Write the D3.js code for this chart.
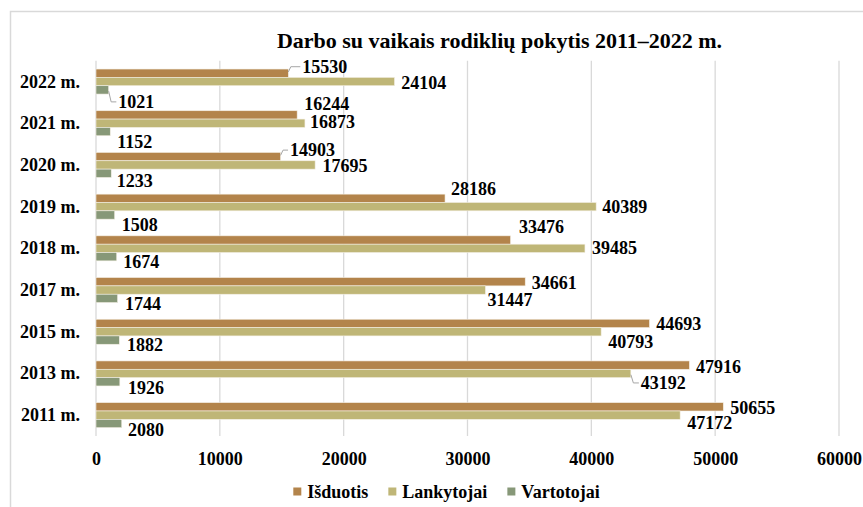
<!DOCTYPE html>
<html>
<head>
<meta charset="utf-8">
<script src="https://cdn.jsdelivr.net/npm/d3@7"></script>
<style>
  body { margin: 0; background: #fff; }
  svg text { font-family: 'Liberation Serif', 'Times New Roman', serif; font-weight: bold; fill: #000; }
</style>
</head>
<body>
<div id="chart"></div>
<script>
const years = ["2022 m.", "2021 m.", "2020 m.", "2019 m.", "2018 m.", "2017 m.", "2015 m.", "2013 m.", "2011 m."];
const isduotis = [15530, 16244, 14903, 28186, 33476, 34661, 44693, 47916, 50655];
const lankytojai = [24104, 16873, 17695, 40389, 39485, 31447, 40793, 43192, 47172];
const vartotojai = [1021, 1152, 1233, 1508, 1674, 1744, 1882, 1926, 2080];
const seriesNames = ["Išduotis", "Lankytojai", "Vartotojai"];
const xTicks = [0, 10000, 20000, 30000, 40000, 50000, 60000];

const width = 863, height = 507;
const colors = ["#b3844b", "#bfb677", "#879878"];

// label placement (dx from bar end, dy from bar centre), like the manual moves in the original
const labelShift = [
    [[14, -6.5], [7, -11], [9.5, -6.5], [6, -9], [8.5, -13], [6.5, 1], [6.7, 1], [6.7, 2], [7, 1]],
    [[6.7, 1], [5, -1], [7.5, 1], [6, 0.5], [7, 0], [2, 10], [7, 10], [10, 9.5], [7, 8]],
    [[9.7, 12], [7, 10], [5.4, 7.5], [7, 10], [6.6, 5], [7.4, 6], [7.7, 5], [8.2, 6], [6.3, 7]]
];
const leaders = [[0, 0], [0, 2], [2, 0], [1, 7]]; // [series, row]

const svg = d3.select('#chart')
    .append('svg')
    .attr('width', width)
    .attr('height', height);

svg.append('rect').attr('width', width).attr('height', height).attr('fill', '#fff');

// chart frame (only top and left edges are in view)
svg.append('path')
    .attr('d', 'M10.5,' + height + ' V11.5 H' + width)
    .attr('fill', 'none')
    .attr('stroke', '#d9d9d9')
    .attr('stroke-width', 1.5);

const plot = { left: 96, right: 839, top: 60.7, bottom: 436 };

const xScale = d3.scaleLinear()
    .domain([0, 60000])
    .range([plot.left, plot.right]);

const yScale = d3.scaleBand()
    .domain(years)
    .range([plot.top, plot.bottom])
    .paddingInner(0.4)
    .paddingOuter(0.2);

const inner = d3.scaleBand()
    .domain([0, 1, 2])
    .range([0, yScale.bandwidth()]);

// gridlines
svg.append('g')
    .selectAll('line')
    .data(xTicks)
    .enter()
    .append('line')
    .attr('x1', d => xScale(d))
    .attr('x2', d => xScale(d))
    .attr('y1', plot.top)
    .attr('y2', plot.bottom)
    .attr('stroke', '#d9d9d9')
    .attr('stroke-width', 1.3);

// title
svg.append('text')
    .attr('x', 499.5)
    .attr('y', 48)
    .attr('text-anchor', 'middle')
    .style('font-size', '22px')
    .text('Darbo su vaikais rodiklių pokytis 2011–2022 m.');

// x axis
const xAxis = d3.axisBottom(xScale)
    .tickValues(xTicks)
    .tickSize(0)
    .tickFormat(d3.format('d'));

const gx = svg.append('g')
    .attr('transform', 'translate(0,' + plot.bottom + ')')
    .call(xAxis);
gx.select('.domain').remove();
gx.selectAll('text')
    .attr('y', 22.5)
    .attr('dy', null)
    .attr('dominant-baseline', 'central')
    .style('font-size', '18px')
    .style('font-family', null)
    .attr('fill', '#000');

// y axis
const yAxis = d3.axisLeft(yScale)
    .tickSize(0)
    .tickPadding(16);

const gy = svg.append('g')
    .attr('transform', 'translate(' + plot.left + ',0)')
    .call(yAxis);
gy.select('.domain').remove();
gy.selectAll('text')
    .attr('dy', null)
    .attr('dominant-baseline', 'central')
    .style('font-size', '18px')
    .attr('fill', '#000');

// bars + labels
const allSeries = [isduotis, lankytojai, vartotojai];

allSeries.forEach((values, s) => {
    const rows = values.map((v, i) => ({ v: v, i: i, cat: years[i] }));

    svg.append('g')
        .selectAll('rect')
        .data(rows)
        .enter()
        .append('rect')
        .attr('x', xScale(0))
        .attr('y', d => yScale(d.cat) + inner(s))
        .attr('width', d => xScale(d.v) - xScale(0))
        .attr('height', inner.bandwidth())
        .attr('fill', colors[s])
        .attr('stroke', '#f4efe4')
        .attr('stroke-width', 0.6);

    svg.append('g')
        .selectAll('text')
        .data(rows)
        .enter()
        .append('text')
        .attr('x', d => xScale(d.v) + labelShift[s][d.i][0])
        .attr('y', d => yScale(d.cat) + inner(s) + inner.bandwidth() / 2 + labelShift[s][d.i][1])
        .attr('dominant-baseline', 'central')
        .style('font-size', '18px')
        .text(d => d.v);
});

// leader lines
leaders.forEach(([s, i]) => {
    const v = allSeries[s][i];
    const x0 = xScale(v);
    const yc = yScale(years[i]) + inner(s) + inner.bandwidth() / 2;
    const dx = labelShift[s][i][0], dy = labelShift[s][i][1];
    const yL = yc + dy;
    const y0 = yc + Math.sign(dy) * inner.bandwidth() / 2 * 0.3;
    svg.append('path')
        .attr('d', 'M' + x0 + ',' + y0 + ' L' + (x0 + 2.5) + ',' + yL + ' H' + (x0 + dx - 2))
        .attr('fill', 'none')
        .attr('stroke', '#a6a6a6')
        .attr('stroke-width', 1);
});

// legend
const legend = svg.append('g');
let lx = 0;
seriesNames.forEach((name, s) => {
    legend.append('rect')
        .attr('x', lx)
        .attr('y', 491.5 - 4)
        .attr('width', 8)
        .attr('height', 8)
        .attr('fill', colors[s]);
    const t = legend.append('text')
        .attr('x', lx + 14)
        .attr('y', 491.5)
        .attr('dominant-baseline', 'central')
        .style('font-size', '18px')
        .text(name);
    lx += 14 + t.node().getComputedTextLength() + 20;
});
const legendWidth = lx - 20;
legend.attr('transform', 'translate(' + (446.5 - legendWidth / 2) + ',0)');
</script>
</body>
</html>
